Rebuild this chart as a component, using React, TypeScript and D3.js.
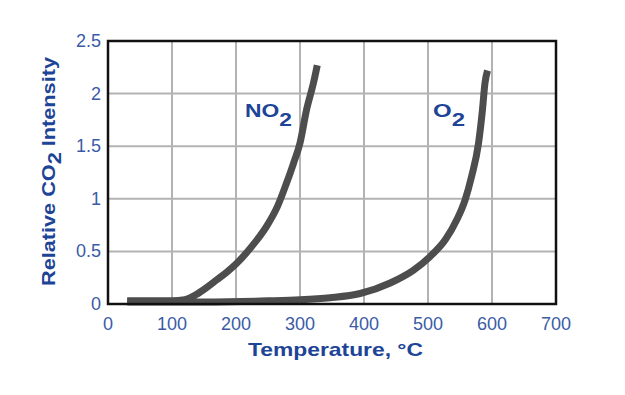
import React from 'react';
import * as d3 from 'd3';

// Temperature (°C) and relative CO2 intensity
const no2Temp = [30, 60, 100, 120, 138, 155, 170, 185, 200, 225, 248, 265, 279, 290, 300, 310, 321, 327];
const no2Val = [0.03, 0.03, 0.03, 0.04, 0.09, 0.16, 0.23, 0.3, 0.38, 0.55, 0.74, 0.93, 1.15, 1.34, 1.53, 1.84, 2.1, 2.27];
const o2Temp = [30, 150, 250, 300, 347, 394, 441, 477, 503, 527, 545, 558, 568, 579, 585, 589, 593];
const o2Val = [0.02, 0.02, 0.03, 0.04, 0.06, 0.1, 0.2, 0.32, 0.45, 0.61, 0.8, 0.99, 1.21, 1.53, 1.84, 2.1, 2.22];
const xTicks = [0, 100, 200, 300, 400, 500, 600, 700];
const yTicks = [0, 0.5, 1, 1.5, 2, 2.5];
const yTickLabels = ['0', '0.5', '1', '1.5', '2', '2.5'];

const W = 625;
const H = 395;
const m = { left: 108, right: 69, top: 41, bottom: 91 };

const tickBlue = '#3a5ba6';
const titleBlue = '#1d4496';
const curveGray = '#4d4d4d';
const font = '"Liberation Sans", Arial, sans-serif';

export default function App() {
  const x = d3.scaleLinear().domain([0, 700]).range([m.left, W - m.right]);
  const y = d3.scaleLinear().domain([0, 2.5]).range([H - m.bottom, m.top]);

  const line = d3.line<[number, number]>()
    .x(d => x(d[0]))
    .y(d => y(d[1]))
    .curve(d3.curveMonotoneX);

  const no2 = no2Temp.map((t, i) => [t, no2Val[i]] as [number, number]);
  const o2 = o2Temp.map((t, i) => [t, o2Val[i]] as [number, number]);

  return (
    <svg width={W} height={H} style={{ position: 'absolute', left: 0, top: 0, background: '#fff' }} fontFamily={font}>
      {/* grid */}
      {xTicks.slice(1, -1).map(t => (
        <line key={'gx' + t} x1={x(t)} x2={x(t)} y1={y(0)} y2={y(2.5)} stroke="#b3b3b3" strokeWidth={2} />
      ))}
      {yTicks.slice(1, -1).map(t => (
        <line key={'gy' + t} x1={x(0)} x2={x(700)} y1={y(t)} y2={y(t)} stroke="#b3b3b3" strokeWidth={2} />
      ))}

      {/* curves */}
      <path d={line(no2) ?? ''} fill="none" stroke={curveGray} strokeWidth={7} strokeLinejoin="round" />
      <path d={line(o2) ?? ''} fill="none" stroke={curveGray} strokeWidth={7} strokeLinejoin="round" />

      {/* frame */}
      <rect x={x(0)} y={y(2.5)} width={x(700) - x(0)} height={y(0) - y(2.5)} fill="none" stroke="#111" strokeWidth={2.5} />

      {/* tick labels */}
      {xTicks.map(t => (
        <text key={'tx' + t} x={x(t)} y={y(0) + 26} textAnchor="middle" fontSize={18} fill={tickBlue}>{t}</text>
      ))}
      {yTicks.map((t, i) => (
        <text key={'ty' + t} x={x(0) - 7} y={y(t) + 6} textAnchor="end" fontSize={18} fill={tickBlue}>{yTickLabels[i]}</text>
      ))}

      {/* axis titles */}
      <text x={248} y={356} fontSize={19} fontWeight="bold" fill={titleBlue} textLength={175} lengthAdjust="spacingAndGlyphs">Temperature, °C</text>
      <text transform="translate(55,286) rotate(-90)" fontSize={19} fontWeight="bold" fill={titleBlue} textLength={229} lengthAdjust="spacingAndGlyphs">
        Relative CO<tspan dy={6}>2</tspan><tspan dy={-6}> Intensity</tspan>
      </text>

      {/* series labels */}
      <text x={245} y={117} fontSize={18} fontWeight="bold" fill={titleBlue} textLength={47} lengthAdjust="spacingAndGlyphs">
        NO<tspan dy={9}>2</tspan>
      </text>
      <text x={433} y={117} fontSize={18} fontWeight="bold" fill={titleBlue} textLength={32} lengthAdjust="spacingAndGlyphs">
        O<tspan dy={9}>2</tspan>
      </text>
    </svg>
  );
}
